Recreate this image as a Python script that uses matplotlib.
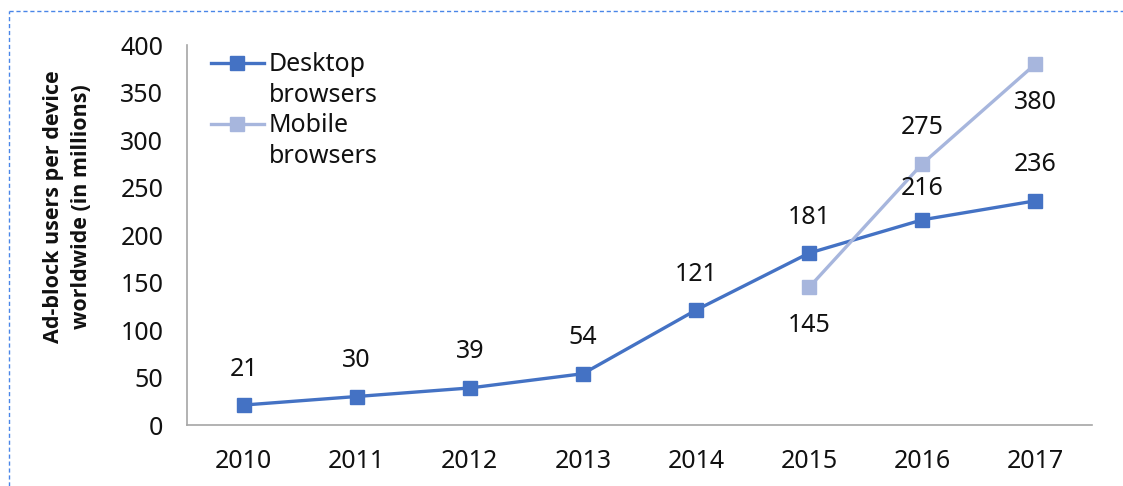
import matplotlib.pyplot as plt
from matplotlib.lines import Line2D

plt.rcParams.update({
    "font.family": ["Noto Sans", "DejaVu Sans"],
    "font.size": 18,
})

years = ["2010", "2011", "2012", "2013", "2014", "2015", "2016", "2017"]
desktop = [21, 30, 39, 54, 121, 181, 216, 236]
mobile_years = ["2015", "2016", "2017"]
mobile = [145, 275, 380]
# label offsets in pixels (positive = above the point)
desktop_offsets = [36, 36, 36, 36, 36, 36, 31, 36]
mobile_offsets = [-38, 36, -38]

desk_color = "#4472C4"
mob_color = "#A7B6DD"
txt_color = "#111111"

fig = plt.figure(figsize=(11.23, 4.86), dpi=100)
ax = fig.add_axes([0.1665, 0.1255, 0.8059, 0.7819])

x = list(range(len(years)))
xm = [years.index(y) for y in mobile_years]

ax.plot(x, desktop, color=desk_color, lw=2.4, marker="s", markersize=10,
        label="Desktop\nbrowsers", clip_on=False)
ax.plot(xm, mobile, color=mob_color, lw=2.4, marker="s", markersize=10,
        label="Mobile\nbrowsers", clip_on=False)

for xi, v, off in zip(x, desktop, desktop_offsets):
    ax.annotate(str(v), (xi, v), xytext=(0, off), textcoords="offset pixels",
                ha="center", va="center", fontsize=18, color=txt_color)
for xi, v, off in zip(xm, mobile, mobile_offsets):
    ax.annotate(str(v), (xi, v), xytext=(0, off), textcoords="offset pixels",
                ha="center", va="center", fontsize=18, color=txt_color)

ax.set_xlim(-0.5, len(years) - 0.5)
ax.set_ylim(0, 400)
ax.set_yticks(range(0, 401, 50))
ax.set_xticks(x)
ax.set_xticklabels(years)
ax.tick_params(length=0, labelsize=18, colors=txt_color)
ax.tick_params(axis="x", pad=17)
ax.tick_params(axis="y", pad=17)

for s in ["top", "right"]:
    ax.spines[s].set_visible(False)
for s in ["left", "bottom"]:
    ax.spines[s].set_color("#A6A6A6")
    ax.spines[s].set_linewidth(1.2)

ax.set_ylabel("Ad-block users per device\nworldwide (in millions)",
              family=["Open Sans", "DejaVu Sans"], fontsize=15.5,
              fontweight="bold", color=txt_color, linespacing=1.45)
ax.yaxis.set_label_coords(-0.105, 0.574)

leg = ax.legend(loc="upper left", bbox_to_anchor=(0.01, 1.02), frameon=False,
                fontsize=18, handlelength=2.1, handletextpad=0.2,
                handleheight=1.2, labelspacing=0.2, borderaxespad=0.2,
                labelcolor=txt_color)
for t in leg.get_texts():
    t.set_linespacing(1.3)
# put the handle next to the first line of each label
for col in leg._legend_handle_box.get_children():
    for item in col.get_children():
        item.align = "top"

# dashed frame around the chart area
fig.add_artist(Line2D([0.008, 1.0], [0.977, 0.977], transform=fig.transFigure,
                      color="#4A86E8", lw=1, ls=(0, (3, 2))))
fig.add_artist(Line2D([0.008, 0.008], [0.0, 0.977], transform=fig.transFigure,
                      color="#4A86E8", lw=1, ls=(0, (3, 2))))

fig.savefig("out.png", dpi=100)
